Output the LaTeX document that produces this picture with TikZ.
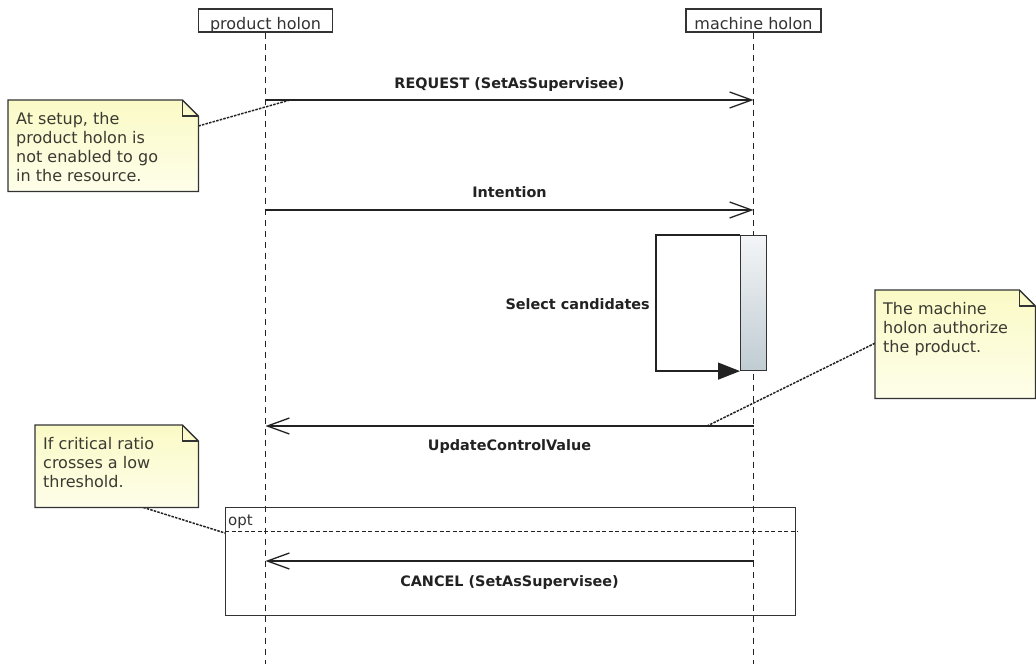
\documentclass[tikz,border=0pt]{standalone}
\usepackage{fontspec}
\setmainfont{DejaVu Sans}
\usetikzlibrary{arrows.meta,calc}
\definecolor{ink}{HTML}{222222}
\definecolor{edge}{HTML}{333333}
\definecolor{notetop}{RGB}{250,250,198}
\definecolor{notebot}{RGB}{254,254,234}
\definecolor{bartop}{RGB}{243,245,247}
\definecolor{barbot}{RGB}{192,204,211}
\definecolor{notetext}{HTML}{3a3a32}
\tikzset{
  titlebox/.style={draw=edge, line width=1.1pt, minimum height=23pt, inner sep=0pt,
    text height=17.6pt, text depth=0pt, font=\fontsize{16}{19}\selectfont, text=edge},
  lifeline/.style={draw=ink, line width=1pt, dash pattern=on 6pt off 5pt},
  msg/.style={draw=ink, line width=1.3pt, -{Straight Barb[length=22pt,width=16pt]}},
  selfmsg/.style={draw=ink, line width=1.3pt, -{Triangle[length=22pt,width=17pt]}},
  msglbl/.style={font=\fontsize{14.4}{17}\selectfont\bfseries, text=ink, anchor=base, inner sep=0pt},
  notearea/.style={draw=none, inner sep=0pt, anchor=north west},
  notetxt/.style={font=\fontsize{16}{19}\selectfont, text=notetext, align=left, inner sep=0pt, anchor=north west},
  noteline/.style={draw=ink, line width=1.5pt, dash pattern=on 2.5pt off 1.2pt},
  actbar/.style={draw=edge, line width=1.1pt, top color=bartop, bottom color=barbot, inner sep=0pt, anchor=north west},
  framebox/.style={draw=edge, line width=1.1pt, inner sep=0pt, anchor=north west},
  framesep/.style={draw=ink, line width=1pt, dash pattern=on 4pt off 2.5pt},
  framelbl/.style={font=\fontsize{15}{18}\selectfont, text=edge, anchor=base west, inner sep=0pt},
}
\newcommand\mynote[1]{%
  \path[draw=edge, line width=1.3pt, top color=notetop, bottom color=notebot]
    (#1.north west) -- ([xshift=-16pt]#1.north east) -- ([yshift=-16pt]#1.north east)
    -- (#1.south east) -- (#1.south west) -- cycle;
  \draw[edge, line width=1.1pt] ([xshift=-16pt]#1.north east) -- ([xshift=-16pt,yshift=-16pt]#1.north east)
    -- ([yshift=-16pt]#1.north east);}
\begin{document}
\begin{tikzpicture}[x=1pt,y=-1pt]
\useasboundingbox (0,0) rectangle (1036,664);
\fill[white] (0,0) rectangle (1036,664);

% participants
\node[titlebox, minimum width=134pt] (ph) at (265.5,20.5) {product holon};
\node[titlebox, minimum width=135pt] (mh) at (753.5,20.5) {machine holon};
\coordinate (phend) at (265.5,664);
\coordinate (mhend) at (753.5,664);
\draw[lifeline] (ph.south) -- (phend);
\draw[lifeline] (mh.south) -- (mhend);

% messages
\coordinate (pa) at (265.5,100);   \coordinate (ma) at (753.5,100);
\coordinate (pb) at (265.5,210);   \coordinate (mb) at (753.5,210);
\coordinate (pc) at (265.5,426);   \coordinate (mc) at (753.5,426);
\coordinate (pd) at (265.5,561);   \coordinate (md) at (753.5,561);

\draw[msg] (pa) -- node[msglbl, yshift=12pt] (la) {REQUEST (SetAsSupervisee)} (ma);
\draw[msg] (pb) -- node[msglbl, yshift=13pt] (lb) {Intention} (mb);

% activation and self message
\node[actbar, minimum width=26pt, minimum height=135pt] (act) at (740,235) {};
\draw[selfmsg] (act.north west) -- ++(-84,0) |- (act.south west);
\node[msglbl, anchor=base east] (lsel) at (650,309) {Select candidates};

\draw[msg] (mc) -- node[msglbl, yshift=-24pt] (lc) {UpdateControlValue} (pc);

% opt frame
\node[framebox, minimum width=570pt, minimum height=108pt] (optf) at (225,507) {};
\draw[framesep] ([yshift=-24pt]optf.north west) -- ([xshift=2pt,yshift=-24pt]optf.north east);
\node[framelbl] (optl) at (228,525) {opt};
\draw[msg] (md) -- node[msglbl, yshift=-25pt] (ld) {CANCEL (SetAsSupervisee)} (pd);

% notes
\node[notearea, minimum width=190pt, minimum height=91pt] (n1) at (8,100) {};
\node[notearea, minimum width=160pt, minimum height=108pt] (n2) at (875,290) {};
\node[notearea, minimum width=163pt, minimum height=82pt] (n3) at (35,425) {};

\coordinate (c1) at (290,100);
\coordinate (c2) at (707,426);
\coordinate (c3) at (225,533);
\draw[noteline] ([yshift=-26pt]n1.north east) -- (c1);
\draw[noteline] ([yshift=1pt]n2.west) -- (c2);
\draw[noteline] ([xshift=26.5pt]n3.south) -- (c3);

\mynote{n1}
\mynote{n2}
\mynote{n3}
\node[notetxt] (t1) at ($(n1.north west)+(8,12)$) {At setup, the\\product holon is\\not enabled to go\\in the resource.};
\node[notetxt] (t2) at ($(n2.north west)+(8,12)$) {The machine\\holon authorize\\the product.};
\node[notetxt] (t3) at ($(n3.north west)+(8,12)$) {If critical ratio\\crosses a low\\threshold.};
\end{tikzpicture}
\end{document}
